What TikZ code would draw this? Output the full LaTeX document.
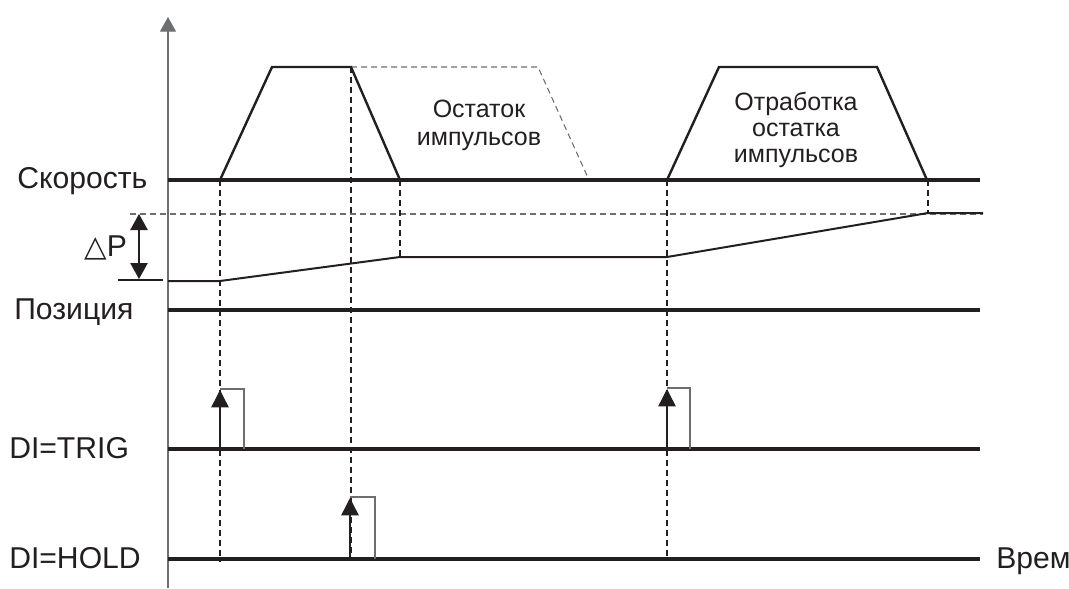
\documentclass[tikz,border=0pt]{standalone}
\usepackage{fontspec}
\setmainfont{Liberation Sans}
\newfontfamily\dv{DejaVu Sans}
\usetikzlibrary{arrows.meta}
\definecolor{ink}{HTML}{231F20}
\definecolor{thin}{HTML}{6D6E71}
\tikzset{
  sig/.style={draw=ink, line width=2.3pt},
  wave/.style={draw=ink, line width=1.8pt, line join=miter},
  poscurve/.style={draw=ink, line width=1.5pt},
  guide/.style={draw=ink, line width=0.8pt, dash pattern=on 4.5pt off 3pt},
  hguide/.style={draw=thin, line width=0.8pt, dash pattern=on 4.5pt off 3pt},
  axis/.style={draw=thin, line width=0.8pt},
  pbox/.style={draw=thin, line width=0.8pt},
  parrow/.style={draw=ink, line width=1.1pt, -{Triangle[length=13pt,width=13pt]}},
  lbl/.style={inner sep=0pt, anchor=base west, text=ink, font=\fontsize{22.6}{25}\selectfont},
  note/.style={inner sep=0pt, align=center, text=ink},
}
\begin{document}
\begin{tikzpicture}[x=0.75pt,y=-0.75pt]
\useasboundingbox (0,0) rectangle (1069,588);
% axis
\draw[axis, -{Triangle[length=11pt,width=12pt]}] (168,588) -- (168,17);
% labels
\node[lbl] (speed) at (17,188) {Скорость};
\node[lbl] (pos) at (14,319) {Позиция};
\node[lbl] (trig) at (9,458) {DI=TRIG};
\node[lbl] (hold) at (9,568) {DI=HOLD};
\node[lbl] (time) at (996,568) {Врем};
\node[lbl] (dp) at (84,256) {{\dv\fontsize{22}{22}\selectfont △}P};
% horizontal reference dashed
\draw[hguide] (130,214) -- (983,214);
% vertical dashed guides
\draw[guide] (220,180) -- (220,562);
\draw[guide] (351,67) -- (351,559);
\draw[guide] (400,180) -- (400,257);
\draw[guide] (667,180) -- (667,559);
\draw[guide] (928,180) -- (928,213);
% remainder dashed profile
\draw[hguide] (351,67) -- (538,67) -- (589,180);
% speed baseline and profiles
\draw[sig] (168,180) -- (980,180);
\draw[wave] (220,180) -- (272,67) -- (351,67) -- (400,180);
\draw[wave] (667,180) -- (719,67) -- (877,67) -- (927,180);
\node[note, font=\fontsize{18.75}{21}\selectfont] (rest) at (479,125) {Остаток\\импульсов};
\node[note, font=\fontsize{18.75}{19.5}\selectfont] (work) at (796,130) {Отработка\\остатка\\импульсов};
% position
\draw[poscurve] (168,281) -- (220,281) -- (400,257) -- (667,257) -- (928,213) -- (983,213);
\draw[draw=ink, line width=0.8pt] (118,280) -- (163,280);
\draw[draw=ink, line width=1.1pt, {Triangle[length=12pt,width=13pt]}-{Triangle[length=12pt,width=13pt]}] (139,214) -- (139,279);
\draw[sig] (168,310) -- (980,310);
% DI=TRIG
\draw[sig] (168,449) -- (980,449);
\draw[pbox] (220,389) -- (244,389) -- (244,449);
\draw[parrow] (220,449) -- (220,390);
\draw[pbox] (667,388) -- (690,388) -- (690,449);
\draw[parrow] (667,449) -- (667,389);
% DI=HOLD
\draw[sig] (168,559) -- (980,559);
\draw[pbox] (350,497) -- (375,497) -- (375,559);
\draw[parrow] (350,559) -- (350,498);
\end{tikzpicture}
\end{document}
